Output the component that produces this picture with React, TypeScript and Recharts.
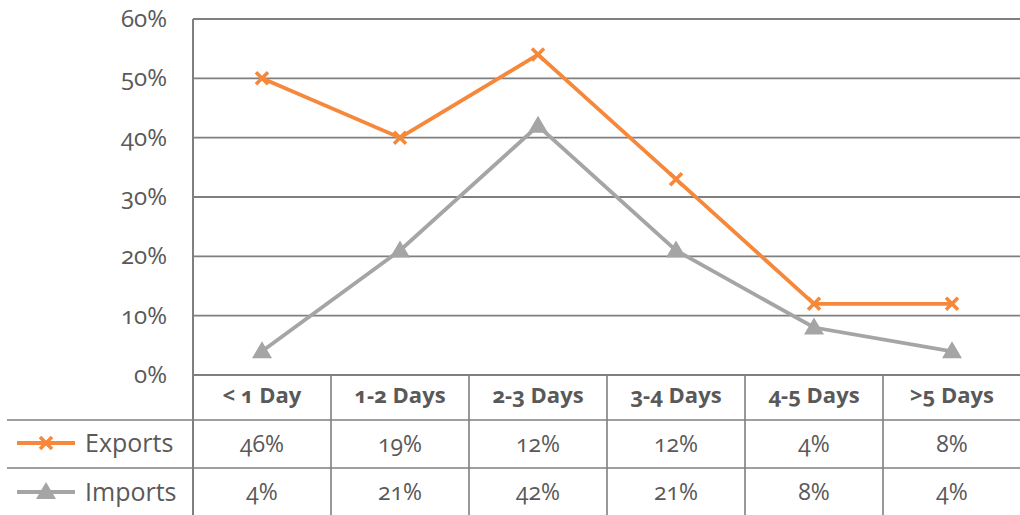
import React from "react";
import { ComposedChart, Area, XAxis, YAxis, CartesianGrid, Customized } from "recharts";

// Shipment time buckets and the share of each trade flow (percent)
const categories = ["< 1 Day", "1-2 Days", "2-3 Days", "3-4 Days", "4-5 Days", ">5 Days"];
const exportsValues = [46, 19, 12, 12, 4, 8];
const importsValues = [4, 21, 42, 21, 8, 4];
const yTicks = [0, 10, 20, 30, 40, 50, 60];

const data = categories.map((name, i) => ({
  name,
  Exports: exportsValues[i],
  Imports: importsValues[i],
}));

const W = 1021;
const H = 515;
const LEFT = 193;
const TOP = 19;
const PLOT_BOTTOM = 375;
const ROW1 = 420;
const ROW2 = 468;
const BAND = (W - LEFT) / categories.length;

const ORANGE = "#F5883A";
const GRAY = "#A5A5A5";
const TEXT = "#595959";
const RULE = "#7F7F7F";
const FONT = "'Open Sans', 'DejaVu Sans', sans-serif";
const LINE_W = 3.8;

const CrossDot = (props: any) => {
  const { cx, cy } = props;
  if (cx == null || cy == null) return null;
  const s = 6;
  return (
    <g>
      <line x1={cx - s} y1={cy - s} x2={cx + s} y2={cy + s} stroke={ORANGE} strokeWidth={3.6} />
      <line x1={cx - s} y1={cy + s} x2={cx + s} y2={cy - s} stroke={ORANGE} strokeWidth={3.6} />
    </g>
  );
};

const TriangleDot = (props: any) => {
  const { cx, cy } = props;
  if (cx == null || cy == null) return null;
  return (
    <polygon
      points={`${cx},${cy - 10} ${cx - 10},${cy + 7} ${cx + 10},${cy + 7}`}
      fill={GRAY}
    />
  );
};

// Category header plus the two data-table cells under each bucket
const TableTick = (props: any) => {
  const { x, payload, index } = props;
  const i = index ?? categories.indexOf(payload.value);
  return (
    <g fontFamily={FONT} style={{ fontVariantNumeric: "oldstyle-nums" }}>
      <text x={x} y={403} textAnchor="middle" fill={TEXT} fontSize={22} fontWeight={700}>
        {payload.value}
      </text>
      <text x={x} y={452} textAnchor="middle" fill={TEXT} fontSize={23}>
        {`${exportsValues[i]}%`}
      </text>
      <text x={x} y={500} textAnchor="middle" fill={TEXT} fontSize={23}>
        {`${importsValues[i]}%`}
      </text>
    </g>
  );
};

const YTick = (props: any) => {
  const { x, y, payload } = props;
  return (
    <text
      x={x}
      y={y + 8}
      textAnchor="end"
      fill={TEXT}
      fontSize={24}
      fontFamily={FONT}
      style={{ fontVariantNumeric: "oldstyle-nums" }}
    >
      {`${payload.value}%`}
    </text>
  );
};

// Table rules and the series key in the left column
const TableFrame = () => {
  const dividers = categories.map((_, i) => LEFT + BAND * (i + 1));
  return (
    <g>
      <line x1={LEFT} y1={PLOT_BOTTOM} x2={W} y2={PLOT_BOTTOM} stroke={RULE} strokeWidth={1.8} />
      <line x1={7} y1={ROW1} x2={W} y2={ROW1} stroke={RULE} strokeWidth={1.6} />
      <line x1={7} y1={ROW2} x2={W} y2={ROW2} stroke={RULE} strokeWidth={1.6} />
      <line x1={LEFT} y1={TOP} x2={LEFT} y2={H} stroke={RULE} strokeWidth={2} />
      {dividers.map((dx, i) => (
        <line key={i} x1={dx} y1={PLOT_BOTTOM} x2={dx} y2={H} stroke={RULE} strokeWidth={1.6} />
      ))}
      <line x1={17} y1={443} x2={75} y2={443} stroke={ORANGE} strokeWidth={LINE_W} />
      <CrossDot cx={46} cy={443} />
      <text x={85} y={452} fill={TEXT} fontSize={25} fontFamily={FONT}>Exports</text>
      <line x1={17} y1={492} x2={75} y2={492} stroke={GRAY} strokeWidth={LINE_W} />
      <TriangleDot cx={46} cy={492} />
      <text x={85} y={501} fill={TEXT} fontSize={25} fontFamily={FONT}>Imports</text>
    </g>
  );
};

export default function App() {
  return (
    <div style={{ position: "absolute", left: 0, top: 0, background: "#fff" }}>
      <ComposedChart
        width={W}
        height={H}
        data={data}
        margin={{ top: TOP, right: 0, bottom: 0, left: 0 }}
      >
        <CartesianGrid vertical={false} stroke={RULE} strokeWidth={1.8} />
        <XAxis
          dataKey="name"
          height={H - PLOT_BOTTOM}
          axisLine={false}
          tickLine={false}
          tick={<TableTick />}
          interval={0}
          padding={{ left: BAND / 2, right: BAND / 2 }}
        />
        <YAxis
          width={LEFT}
          domain={[0, 60]}
          ticks={yTicks}
          axisLine={false}
          tickLine={false}
          tick={<YTick />}
          tickMargin={20}
        />
        <Area
          type="linear"
          dataKey="Imports"
          stackId="flow"
          stroke={GRAY}
          strokeWidth={LINE_W}
          fill="none"
          fillOpacity={0}
          dot={<TriangleDot />}
          activeDot={false}
          isAnimationActive={false}
        />
        <Area
          type="linear"
          dataKey="Exports"
          stackId="flow"
          stroke={ORANGE}
          strokeWidth={LINE_W}
          fill="none"
          fillOpacity={0}
          dot={<CrossDot />}
          activeDot={false}
          isAnimationActive={false}
        />
        <Customized component={<TableFrame />} />
      </ComposedChart>
    </div>
  );
}
